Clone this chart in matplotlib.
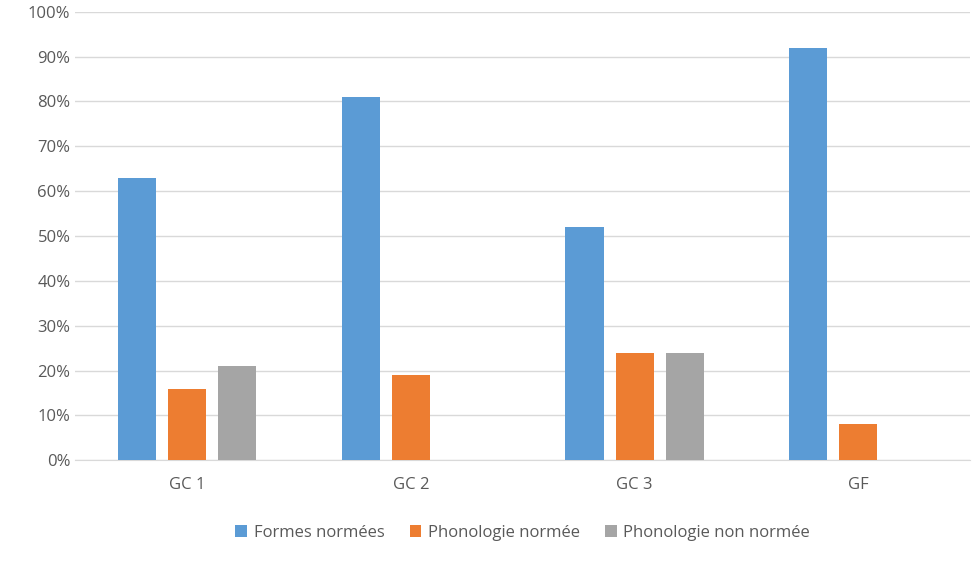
import matplotlib
matplotlib.use("Agg")
import matplotlib.pyplot as plt
import numpy as np
from matplotlib.ticker import PercentFormatter

categories = ["GC 1", "GC 2", "GC 3", "GF"]
formes = [63, 81, 52, 92]
phon_norm = [16, 19, 24, 8]
phon_non = [21, 0, 24, 0]
series_names = ["Formes normées", "Phonologie normée", "Phonologie non normée"]
colors = ["#5B9BD5", "#ED7D31", "#A5A5A5"]

plt.rcParams['font.family'] = ['Open Sans', 'DejaVu Sans']
fig = plt.figure(figsize=(9.78, 5.62), dpi=100)
ax = fig.add_axes([0.077, 0.181, 0.915, 0.798])
x = np.arange(len(categories))
w = 0.17
off = 0.224
for i, (vals, name, c) in enumerate(zip([formes, phon_norm, phon_non], series_names, colors)):
    ax.bar(x + (i - 1) * off, vals, w, color=c, label=name, zorder=3)

ax.set_xlim(-0.5, len(categories) - 0.5)
ax.set_ylim(0, 100)
ax.set_yticks(range(0, 101, 10))
ax.yaxis.set_major_formatter(PercentFormatter(decimals=0))
ax.set_xticks(x)
ax.set_xticklabels(categories)
ax.grid(axis='y', color='#D9D9D9', linewidth=1, zorder=0)
for s in ['top', 'right', 'left']:
    ax.spines[s].set_visible(False)
ax.spines['bottom'].set_color('#D9D9D9')
ax.tick_params(axis='both', length=0, labelsize=12, colors='#595959')
ax.tick_params(axis='x', pad=12)
ax.legend(loc='upper center', bbox_to_anchor=(0.5, -0.11), ncol=3, frameon=False,
          fontsize=12, labelcolor='#595959', handlelength=0.7, handleheight=0.7,
          columnspacing=1.5, handletextpad=0.4)
fig.savefig("out.png", dpi=100)
